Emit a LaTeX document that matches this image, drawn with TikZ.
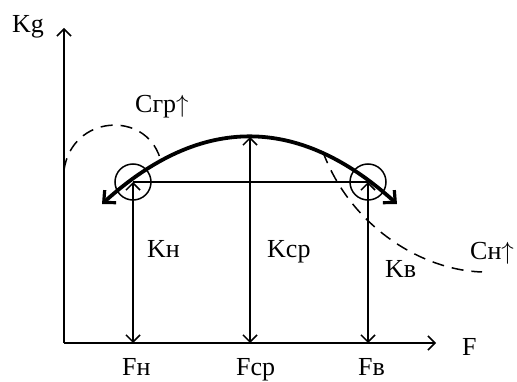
\documentclass[tikz,border=0pt]{standalone}
\usepackage{fontspec}
\setmainfont{Liberation Serif}
\usetikzlibrary{arrows.meta}

\begin{document}
\begin{tikzpicture}[x=1pt, y=-1pt,
    axis/.style={line width=1.5pt, -{Straight Barb[length=7pt, width=14pt, line width=1.5pt]}},
    level/.style={line width=1.5pt, {Straight Barb[length=7pt, width=14pt, line width=1.5pt]}-{Straight Barb[length=7pt, width=14pt, line width=1.5pt]}},
    bow/.style={line width=3.8pt, {Straight Barb[length=9pt, width=17pt, line width=3.2pt]}-{Straight Barb[length=9pt, width=17pt, line width=3.2pt]}},
    trend/.style={line width=1.5pt, dash pattern=on 12pt off 8pt},
    ring/.style={draw, circle, line width=1.5pt, minimum size=36pt, inner sep=0pt},
    lbl/.style={anchor=base west, inner sep=0pt, font=\fontsize{26}{30}\selectfont}]
    \useasboundingbox (0,0) rectangle (517,382);

    % axes
    \coordinate (O) at (64,343);
    \coordinate (ytop) at (64,28);
    \coordinate (xend) at (436,343);
    \draw[axis] (O) -- (ytop);
    \draw[axis] (O) -- (xend);
    \node[lbl] (kg) at (12,33) {Kg};
    \node[lbl] (f) at (462,355) {F};

    % levels
    \coordinate (nBot) at (133,343);
    \coordinate (nTop) at (133,182);
    \coordinate (sBot) at (250,343);
    \coordinate (sTop) at (250,137);
    \coordinate (vBot) at (368,343);
    \coordinate (vTop) at (368,182);
    \draw[level] (nTop) -- (nBot);
    \draw[level] (sTop) -- (sBot);
    \draw[level] (vTop) -- (vBot);
    \draw[line width=1.5pt] (nTop) -- (vTop);
    \node[ring] (cn) at (nTop) {};
    \node[ring] (cv) at (vTop) {};

    % main curve
    \coordinate (aL) at (102,204);
    \coordinate (aR) at (397,204);
    \draw[bow] (aL) .. controls (200.7,114.7) and (298.3,114.7) .. (aR);

    % dashed trends
    \coordinate (gS) at (64,170);
    \coordinate (gE) at (160,158);
    \draw[trend] (gS) .. controls (72,115) and (145,110) .. (gE);
    \coordinate (hS) at (323,152);
    \coordinate (hE) at (482,272);
    \draw[trend] (hS) .. controls (350,225) and (420,270) .. (hE);

    % labels
    \node[lbl] (cgr) at (135,113) {Cгр$\uparrow$};
    \node[lbl] (chn) at (470,260) {Cн$\uparrow$};
    \node[lbl] (kn) at (147,258) {Kн};
    \node[lbl] (ks) at (267,258) {Kср};
    \node[lbl] (kv) at (385,278) {Kв};
    \node[lbl] (fn) at (122,375) {Fн};
    \node[lbl] (fs) at (236,375) {Fср};
    \node[lbl] (fv) at (358,375) {Fв};
\end{tikzpicture}
\end{document}
